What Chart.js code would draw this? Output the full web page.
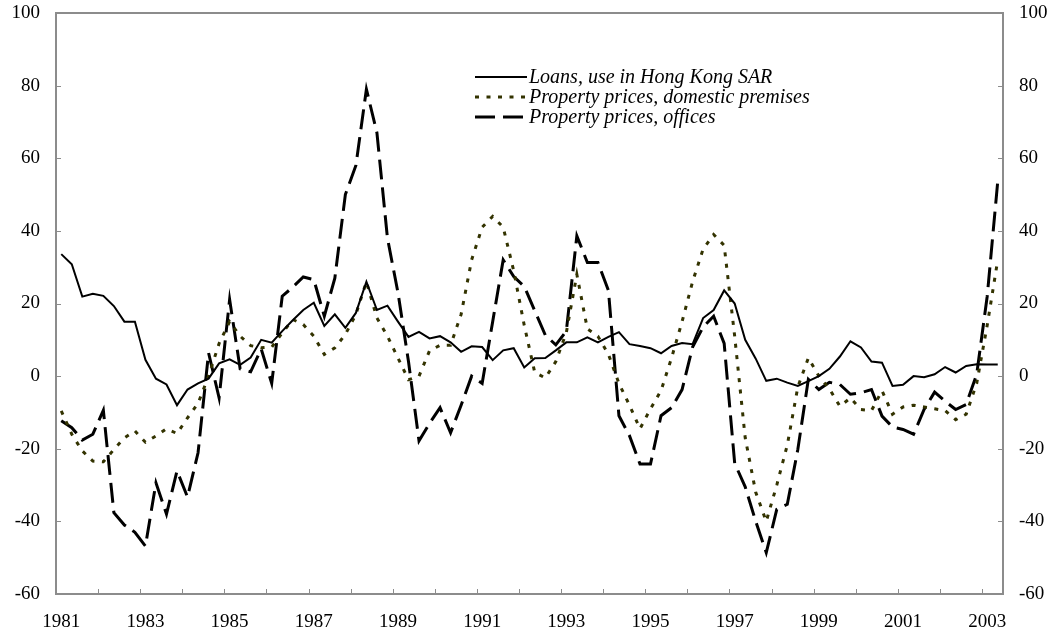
<!DOCTYPE html>
<html>
<head>
<meta charset="utf-8">
<script src="https://cdn.jsdelivr.net/npm/chart.js@4"></script>
<style>
  body { margin: 0; background: #fff; }
  #wrap { width: 1056px; height: 634px; }
</style>
</head>
<body>
<div id="wrap"><canvas id="chart" width="1056" height="634"></canvas></div>
<script>
// quarterly, 1981 Q1 .. 2003 Q2
const years = ["1981","1982","1983","1984","1985","1986","1987","1988","1989","1990","1991",
  "1992","1993","1994","1995","1996","1997","1998","1999","2000","2001","2002","2003"];
const tickYears = ["1981","1983","1985","1987","1989","1991","1993","1995","1997","1999","2001","2003"];
const yTicks = [-60, -40, -20, 0, 20, 40, 60, 80, 100];

const loans = [
  33.6, 30.8, 21.9, 22.7, 22.1, 19.3, 15, 15,
  4.5, -0.7, -2.3, -8, -3.7, -2, -0.7, 3.5,
  4.6, 3.1, 5.1, 10, 9.2, 12.4, 15.4, 18.2,
  20.2, 13.8, 17, 13.3, 17.4, 26, 18.2, 19.4,
  15, 10.8, 12.2, 10.4, 11, 9.3, 6.7, 8.2,
  8, 4.4, 7.1, 7.7, 2.4, 4.9, 5, 7.1,
  9.3, 9.3, 10.7, 9.3, 10.8, 12.1, 8.8, 8.3,
  7.7, 6.3, 8.3, 9.1, 8.8, 16, 18.2, 23.6,
  20, 10, 4.8, -1.3, -0.7, -1.8, -2.7, -1.4,
  0, 2, 5.4, 9.6, 7.9, 4, 3.7, -2.7,
  -2.4, 0, -0.3, 0.5, 2.5, 1, 2.8, 3.3,
  3.2, 3.2
];
const domestic = [
  -9.6, -16, -20.6, -23.4, -23.6, -20.2, -17, -15.1,
  -18.2, -16.5, -14.5, -15.8, -11.5, -7.5, 0, 9,
  15, 11, 8.4, 7.8, 8, 11.9, 15.6, 14.2,
  11, 6, 7.8, 11.5, 17, 26, 16, 11,
  5, -1, 0, 7, 8.5, 8.5, 17, 32,
  41, 44, 41, 29, 14, 1, -0.5, 4,
  12, 28, 13, 11, 6, -2, -8, -14.5,
  -9, -4, 5, 15, 26, 35, 39, 36,
  11, -17, -32, -40, -30, -19, -3, 5,
  0, -3.5, -8.3, -6, -9.2, -9.5, -4, -10.5,
  -8.5, -8, -8.5, -9, -9.5, -12, -10.5, -2,
  14, 32
];
const offices = [
  -12.3, -14.2, -17.6, -16, -9.4, -37.6, -41, -43,
  -46.8, -29.4, -38, -26.1, -33.3, -21.1, 6.4, -6,
  21.1, 2, 1.2, 7.5, -2, 22, 24.5, 27.3,
  26.6, 16.5, 27, 50, 58, 79, 67, 38,
  23, 4, -17.8, -13, -8.7, -15.6, -8, 0,
  -2, 15, 32, 27.4, 24.7, 18, 11.3, 8.6,
  12.4, 38.6, 31.3, 31.3, 23.6, -10.9, -16.4, -24.2,
  -24.2, -10.9, -8.7, -3.7, 8, 13.5, 16.5, 9,
  -24, -30.5, -40, -48.6, -36.7, -35.3, -20.2, -0.9,
  -3.7, -1.7, -2.3, -5, -4.6, -3.7, -11, -14,
  -14.7, -16, -9.2, -4.4, -6.9, -9.2, -7.8, 0.5,
  22, 53.6
];

const quarters = [];
years.forEach(y => ["Q1", "Q2", "Q3", "Q4"].forEach(q => quarters.push(y + " " + q)));
quarters.length = loans.length;

const serif = "'Liberation Serif', 'Times New Roman', serif";
Chart.defaults.font.family = serif;
Chart.defaults.font.size = 19;
Chart.defaults.color = "#000";

const axisGray = "#8c8c8c";

// frame round the plot, with short inward ticks like the original
const frame = {
  id: "frame",
  afterDatasetsDraw(chart) {
    const { ctx, chartArea: a, scales } = chart;
    ctx.save();
    ctx.strokeStyle = axisGray;
    ctx.lineWidth = 2;
    ctx.strokeRect(a.left, a.top, a.right - a.left, a.bottom - a.top);
    ctx.lineWidth = 1;
    ctx.beginPath();
    const x = scales.x;
    for (let i = 4; i < quarters.length; i += 4) {
      const px = Math.round((x.getPixelForValue(i - 1) + x.getPixelForValue(i)) / 2) + 0.5;
      ctx.moveTo(px, a.bottom);
      ctx.lineTo(px, a.bottom - 5);
    }
    yTicks.forEach(v => {
      const py = Math.round(scales.y.getPixelForValue(v)) + 0.5;
      ctx.moveTo(a.left, py); ctx.lineTo(a.left + 5, py);
      ctx.moveTo(a.right, py); ctx.lineTo(a.right - 5, py);
    });
    ctx.stroke();
    ctx.restore();
  }
};

const legendBox = {
  id: "legendBox",
  afterDatasetsDraw(chart) {
    const ctx = chart.ctx;
    ctx.save();
    ctx.font = "italic 20px " + serif;
    ctx.textBaseline = "middle";
    ctx.fillStyle = "#000";
    chart.data.datasets.forEach((ds, k) => {
      const y = 77 + k * 20;
      ctx.strokeStyle = ds.borderColor;
      ctx.lineWidth = ds.borderWidth;
      ctx.setLineDash(ds.borderDash || []);
      ctx.beginPath();
      ctx.moveTo(475, y);
      ctx.lineTo(527, y);
      ctx.stroke();
      ctx.setLineDash([]);
      ctx.fillText(ds.label, 529, y + 1);
    });
    ctx.restore();
  }
};

const fitY = w => s => { s.width = w; s.paddingTop = 13; s.paddingBottom = 0; };

new Chart(document.getElementById("chart"), {
  type: "line",
  data: {
    labels: quarters,
    datasets: [
      { label: "Loans, use in Hong Kong SAR", data: loans,
        borderColor: "#000", borderWidth: 2, pointRadius: 0, tension: 0 },
      { label: "Property prices, domestic premises", data: domestic,
        borderColor: "#333300", borderWidth: 3, borderDash: [4, 7.5], pointRadius: 0, tension: 0 },
      { label: "Property prices, offices", data: offices,
        borderColor: "#000", borderWidth: 3, borderDash: [20, 8], pointRadius: 0, tension: 0 }
    ]
  },
  options: {
    responsive: false,
    animation: false,
    layout: { padding: 0 },
    plugins: { legend: { display: false }, tooltip: { enabled: false } },
    scales: {
      x: {
        offset: true,
        grid: { display: false },
        border: { display: false },
        ticks: {
          autoSkip: false, maxRotation: 0, padding: 9,
          callback: (v, i) => (i % 8 === 0 ? tickYears[i / 8] : "")
        },
        afterFit: s => { s.height = 40; }
      },
      y: {
        position: "left", min: -60, max: 100,
        grid: { display: false, drawTicks: false },
        border: { display: false },
        ticks: { stepSize: 20, padding: 16 },
        afterFit: fitY(56)
      },
      y2: {
        position: "right", min: -60, max: 100, display: true,
        grid: { display: false, drawTicks: false },
        border: { display: false },
        ticks: { stepSize: 20, padding: 16 },
        afterFit: fitY(53)
      }
    }
  },
  plugins: [frame, legendBox]
});
</script>
</body>
</html>
